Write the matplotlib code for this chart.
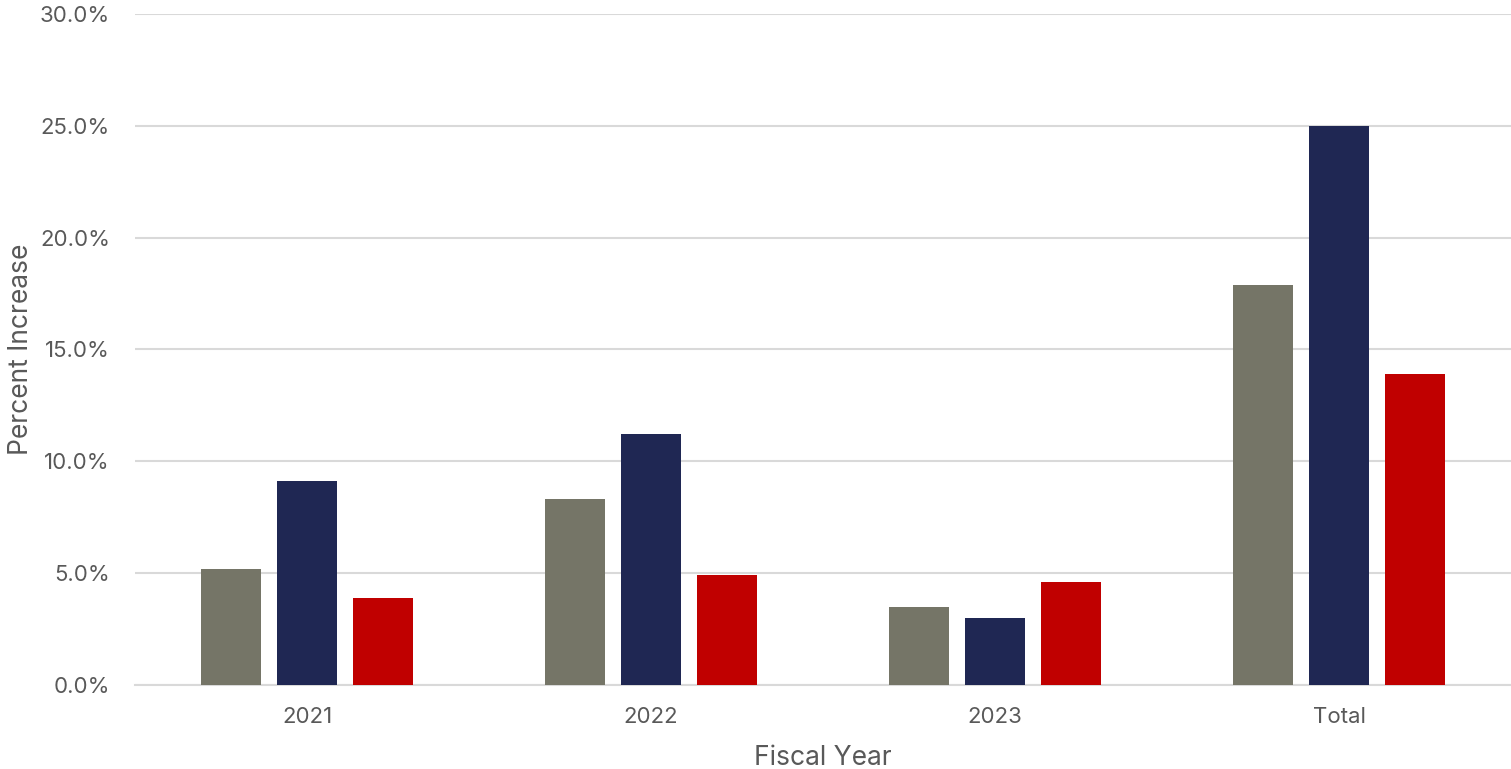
import matplotlib.pyplot as plt
import numpy as np
from matplotlib.ticker import FuncFormatter

plt.rcParams['font.family'] = ['Inter', 'DejaVu Sans']

categories = ['2021', '2022', '2023', 'Total']
series_a = [5.2, 8.3, 3.5, 17.9]
series_b = [9.1, 11.2, 3.0, 25.0]
series_c = [3.9, 4.9, 4.6, 13.9]
colors = ['#757567', '#1f2753', '#c00000']

text_col = '#595959'

fig = plt.figure(figsize=(15.11, 7.69), dpi=100)
ax = fig.add_axes([135 / 1511, 1 - 685 / 769, 1 - 135 / 1511, (685 - 14) / 769])

x = np.arange(len(categories))
w = 0.174
off = 0.221
for i, vals in enumerate([series_a, series_b, series_c]):
    ax.bar(x + (i - 1) * off, vals, width=w, color=colors[i], zorder=3)

ax.set_xlim(-0.5, 3.5)
ax.set_ylim(0, 30)
ax.set_yticks(np.arange(0, 31, 5))
ax.yaxis.set_major_formatter(FuncFormatter(lambda v, p: f'{v:.1f}%'))
ax.set_xticks(x)
ax.set_xticklabels(categories)
ax.grid(axis='y', color='#d9d9d9', linewidth=1.5, zorder=0)
for s in ['top', 'right', 'left']:
    ax.spines[s].set_visible(False)
ax.spines['bottom'].set_color('#d9d9d9')
ax.spines['bottom'].set_linewidth(1.5)
ax.tick_params(axis='both', length=0, labelsize=16, colors=text_col)
ax.tick_params(axis='x', pad=16)
ax.tick_params(axis='y', pad=18)
ax.set_xlabel('Fiscal Year', fontsize=19, color=text_col, labelpad=13)
ax.set_ylabel('Percent Increase', fontsize=19, color=text_col, labelpad=4)

fig.savefig('out.png', dpi=100)
